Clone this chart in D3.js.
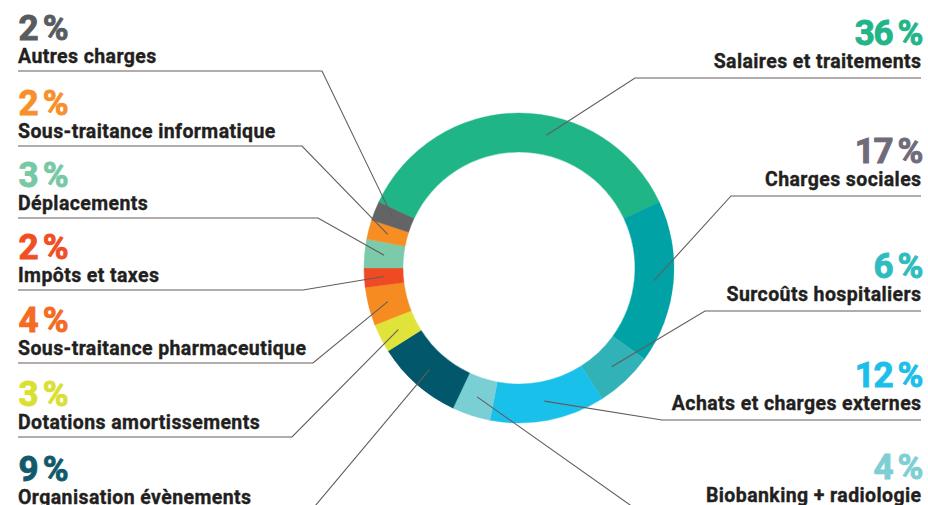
<!DOCTYPE html>
<html lang="fr">
<head>
<meta charset="utf-8" />
<title>Répartition des charges</title>
<style>
  body{margin:0;background:#fff;}
  svg{display:block;}
  .pct{font-family:Roboto,"DejaVu Sans",sans-serif;font-weight:700;font-size:35px;letter-spacing:-1.5px;
       stroke-width:.9px;}
  .name{font-family:Roboto,"DejaVu Sans",sans-serif;font-weight:700;font-size:19.5px;letter-spacing:.4px;
        fill:#231f20;stroke:#231f20;stroke-width:.35px;}
  .leader{fill:none;stroke:#665b5b;stroke-width:1.1;}
</style>
<script src="https://cdn.jsdelivr.net/npm/d3@7.9.0/dist/d3.min.js"></script>
</head>
<body>
<div id="chart"></div>
<script>
/* ───────── DATA (clockwise from the top) ───────── */
const categories = [
  'Salaires et traitements','Charges sociales','Surcoûts hospitaliers',
  'Achats et charges externes','Biobanking + radiologie','Organisation évènements',
  'Dotations amortissements','Sous-traitance pharmaceutique','Impôts et taxes',
  'Déplacements','Sous-traitance informatique','Autres charges'
];
const values = [36,17,6,12,4,9,3,4,2,3,2,2];
const sliceColors = ['#1fb587','#00a2a5','#31b2b7','#19c0ea','#7acfd4','#02586a',
                     '#dfe33a','#f68b21','#ef4a24','#7bcaa9','#f68e23','#636466'];
const pctColors   = ['#22b588','#716a7b','#2fbcc0','#1bbfe9','#7ecfd4','#125a6b',
                     '#d9e031','#f46b23','#f04e23','#76c9a5','#f7902a','#575c5e'];

/* ───────── LAYOUT ───────── */
const W = 928, H = 505;
const C = {x:519, y:268}, R_OUT = 155, R_IN = 116;

// label slots (category name -> line y, elbow x)
const leftSlots = [
  ['Autres charges',71,322],
  ['Sous-traitance informatique',146,302],
  ['Déplacements',218,318],
  ['Impôts et taxes',290,303],
  ['Sous-traitance pharmaceutique',363,313],
  ['Dotations amortissements',437,292],
  ['Organisation évènements',512,310]
];
const rightSlots = [
  ['Salaires et traitements',78,635],
  ['Charges sociales',196,731],
  ['Surcoûts hospitaliers',311,705],
  ['Achats et charges externes',420,662],
  ['Biobanking + radiologie',512,640]
];
const leaderFrac = {'Salaires et traitements':0.59};
const X_LEFT = 18, X_RIGHT = 921;

const svg = d3.select('#chart').append('svg')
  .attr('width',W).attr('height',H).attr('viewBox',[0,0,W,H]);

const total = d3.sum(values);
const a0 = -Math.PI*values[0]/total;
const pie = d3.pie().sort(null).startAngle(a0).endAngle(a0+2*Math.PI);
const arcs = pie(values);
const arc = d3.arc().innerRadius(R_IN).outerRadius(R_OUT);

const ring = svg.append('g').attr('transform',`translate(${C.x},${C.y})`);
ring.selectAll('path').data(arcs).join('path')
  .attr('d',arc).attr('fill',(d,i)=>sliceColors[i])
  .attr('stroke',(d,i)=>sliceColors[i]).attr('stroke-width',0.4);

function anchorPoint(i){
  const d = arcs[i], f = leaderFrac[categories[i]] ?? 0.5;
  const a = d.startAngle + (d.endAngle-d.startAngle)*f;
  const r = (R_IN+R_OUT)/2;
  return [C.x + r*Math.sin(a), C.y - r*Math.cos(a)];
}

function drawSide(slots, side){
  const g = svg.append('g');
  slots.forEach(([name,ly,ex])=>{
    const i = categories.indexOf(name);
    const [px,py] = anchorPoint(i);
    const xEnd = side==='left' ? X_LEFT : X_RIGHT;
    g.append('path').attr('class','leader')
      .attr('d',d3.line()([[xEnd,ly],[ex,ly],[px,py]]));
    const anchor = side==='left' ? 'start' : 'end';
    g.append('text').attr('class','name')
      .attr('x',side==='left'?X_LEFT:X_RIGHT+0.5).attr('y',ly-(side==='left'?8.5:10.5))
      .attr('text-anchor',anchor).text(name);
    g.append('text').attr('class','pct')
      .attr('x',side==='left'?X_LEFT+0.5:X_RIGHT+1).attr('y',ly-(side==='left'?31:33))
      .attr('text-anchor',anchor).attr('fill',pctColors[i]).attr('stroke',pctColors[i])
      .text(`${values[i]}\u2009%`);
  });
}
drawSide(leftSlots,'left');
drawSide(rightSlots,'right');
</script>
</body>
</html>
